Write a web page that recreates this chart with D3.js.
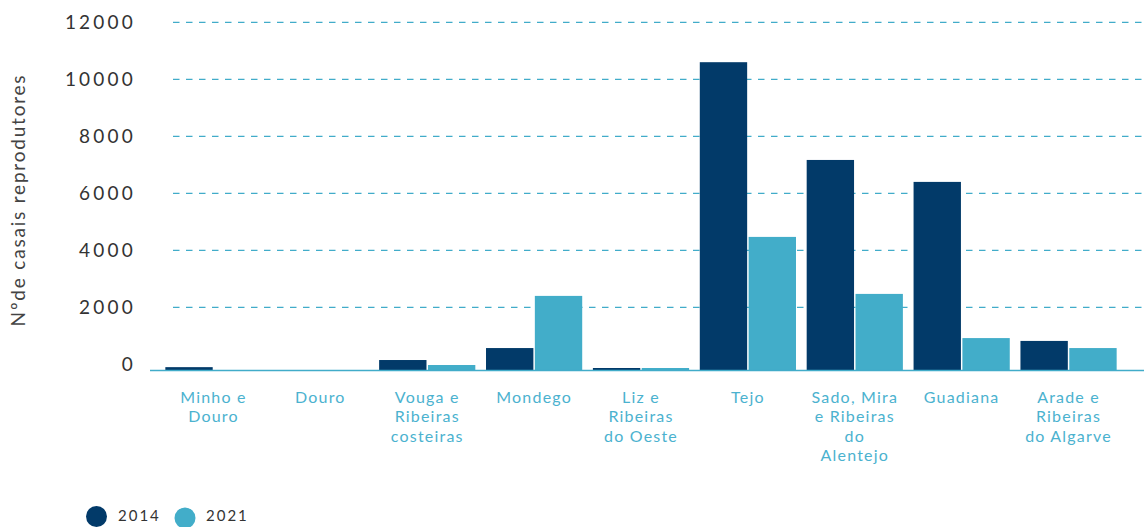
<!DOCTYPE html>
<html>
<head>
<meta charset="utf-8">
<script src="https://cdn.jsdelivr.net/npm/d3@7"></script>
<style>
  html, body { margin: 0; padding: 0; background: #fff; }
  svg { display: block; font-family: Lato, "Noto Sans", sans-serif; }
</style>
</head>
<body>
<div id="chart"></div>
<script>
// data
const categories = ["Minho e Douro", "Douro", "Vouga e Ribeiras costeiras", "Mondego",
  "Liz e Ribeiras do Oeste", "Tejo", "Sado, Mira e Ribeiras do Alentejo", "Guadiana",
  "Arade e Ribeiras do Algarve"];
const categoryLines = [["Minho e", "Douro"], ["Douro"], ["Vouga e", "Ribeiras", "costeiras"], ["Mondego"],
  ["Liz e", "Ribeiras", "do Oeste"], ["Tejo"], ["Sado, Mira", "e Ribeiras", "do", "Alentejo"], ["Guadiana"],
  ["Arade e", "Ribeiras", "do Algarve"]];
const series = ["2014", "2021"];
const values2014 = [100, 0, 350, 770, 70, 10800, 7370, 6600, 1020];
const values2021 = [0, 0, 175, 2600, 70, 4670, 2670, 1120, 770];
const yTicks = [0, 2000, 4000, 6000, 8000, 10000, 12000];
const colors = ["#023a69", "#42adc9"];

const width = 1144, height = 527;
const svg = d3.select("#chart").append("svg")
  .attr("width", width)
  .attr("height", height);

const x = d3.scaleBand()
  .domain(categories)
  .range([160, 1122])
  .paddingInner(0.1)
  .paddingOuter(0.05);
const xInner = d3.scaleBand()
  .domain(series)
  .range([0, x.bandwidth()])
  .paddingInner(0.03);
const y = d3.scaleLinear()
  .domain([0, 12000])
  .range([370, 28]);

// grid + tick labels sit a little above the bar scale in the original
const grid = svg.append("g").attr("transform", "translate(0,-5.7)");
grid.selectAll("line.grid")
  .data(yTicks.filter(d => d > 0))
  .join("line")
  .attr("class", "grid")
  .attr("x1", 173).attr("x2", width)
  .attr("y1", d => y(d)).attr("y2", d => y(d))
  .attr("stroke", "#41acc9")
  .attr("stroke-width", 1.2)
  .attr("stroke-dasharray", "6.5,6.5");
grid.selectAll("text.tick")
  .data(yTicks)
  .join("text")
  .attr("class", "tick")
  .attr("x", 136)
  .attr("y", d => y(d))
  .attr("dy", "0.35em")
  .attr("text-anchor", "end")
  .attr("fill", "#333")
  .attr("font-size", 19)
  .attr("letter-spacing", 3.2)
  .text(d => d);

// bars
const rows = categories.map((c, i) => ({ c, vals: [values2014[i], values2021[i]] }));
const groups = svg.append("g").selectAll("g")
  .data(rows)
  .join("g")
  .attr("transform", d => `translate(${x(d.c)},0)`);
groups.selectAll("rect")
  .data(d => d.vals.map((v, i) => ({ s: series[i], v, i })))
  .join("rect")
  .attr("x", d => xInner(d.s))
  .attr("width", xInner.bandwidth())
  .attr("y", d => y(d.v))
  .attr("height", d => y(0) - y(d.v))
  .attr("fill", d => colors[d.i]);

// baseline
svg.append("line")
  .attr("x1", 150).attr("x2", width)
  .attr("y1", y(0) + 0.5).attr("y2", y(0) + 0.5)
  .attr("stroke", "#41acc9")
  .attr("stroke-width", 1.5);

// category labels, one text per line
const labelGroups = svg.append("g").selectAll("g")
  .data(categories)
  .join("g")
  .attr("transform", d => `translate(${x(d) + x.bandwidth() / 2},402.5)`);
labelGroups.selectAll("text")
  .data((d, i) => categoryLines[i])
  .join("text")
  .attr("y", (d, i) => i * 19.5)
  .attr("text-anchor", "middle")
  .attr("fill", "#4bb2cf")
  .attr("font-size", 16)
  .attr("letter-spacing", 1.2)
  .text(d => d);

// y axis title
svg.append("text")
  .attr("transform", "translate(25,200) rotate(-90)")
  .attr("text-anchor", "middle")
  .attr("fill", "#444")
  .attr("font-size", 19)
  .attr("letter-spacing", 1.8)
  .text("Nºde casais reprodutores");

// legend
const legend = svg.append("g");
const legendX = [96.5, 185];
const legendText = [118, 206];
series.forEach((s, i) => {
  legend.append("circle")
    .attr("cx", legendX[i]).attr("cy", 516.5 + i * 1.5)
    .attr("r", 10.5)
    .attr("fill", colors[i]);
  legend.append("text")
    .attr("x", legendText[i]).attr("y", 521)
    .attr("fill", "#333")
    .attr("font-size", 15)
    .attr("letter-spacing", 2)
    .text(s);
});
</script>
</body>
</html>
